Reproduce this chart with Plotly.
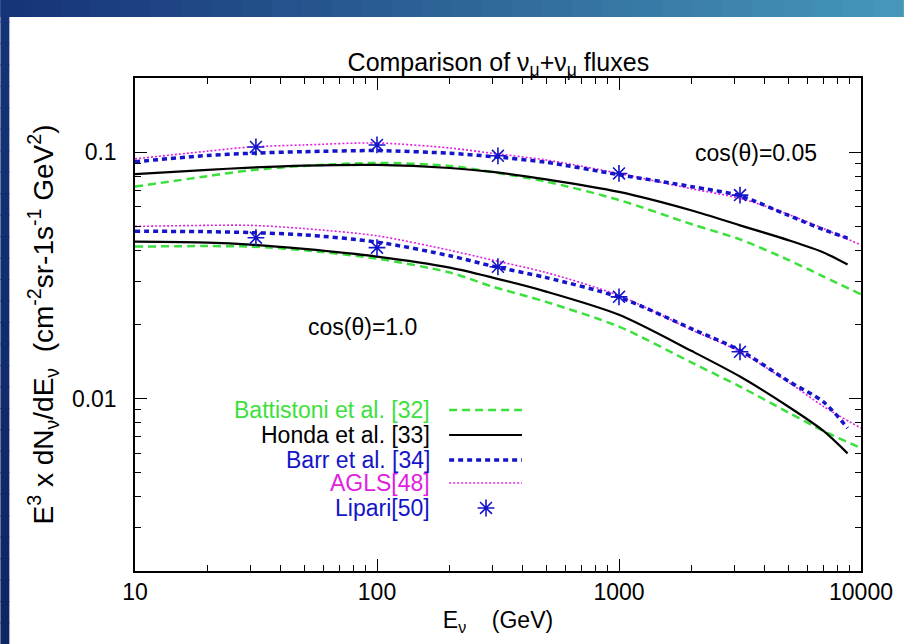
import plotly.graph_objects as go

# ---------------- data ----------------
E_up = [10, 20, 30, 50, 100, 200, 300, 500, 1000, 2000, 3162, 5000, 7000, 8800]
E_up_end = [10, 20, 30, 50, 100, 200, 300, 500, 1000, 2000, 3162, 5000, 7000, 10000]

# cos(theta) = 0.05
battistoni_hz = [0.0725, 0.080, 0.0845, 0.088, 0.0905, 0.088, 0.083, 0.076, 0.064, 0.051, 0.0443, 0.0366, 0.0313, 0.0265]
honda_hz = [0.0815, 0.0848, 0.0866, 0.0882, 0.0888, 0.0863, 0.0832, 0.0776, 0.069, 0.058, 0.0505, 0.044, 0.0392, 0.035]
barr_hz = [0.0915, 0.097, 0.099, 0.1005, 0.1015, 0.099, 0.096, 0.091, 0.081, 0.0725, 0.0665, 0.0555, 0.0485, 0.0448]
agls_hz = [0.094, 0.101, 0.105, 0.107, 0.109, 0.104, 0.099, 0.093, 0.082, 0.071, 0.065, 0.056, 0.049, 0.042]

# cos(theta) = 1.0
battistoni_vt = [0.0414, 0.0416, 0.0414, 0.040, 0.0370, 0.0325, 0.0285, 0.0247, 0.0196, 0.0140, 0.0112, 0.0088, 0.0074, 0.0063]
honda_vt = [0.0434, 0.0430, 0.0422, 0.0405, 0.0377, 0.034, 0.031, 0.0272, 0.0219, 0.0156, 0.0123, 0.0093, 0.0074, 0.0060]
barr_vt = [0.0478, 0.0476, 0.0472, 0.0462, 0.0432, 0.038, 0.0345, 0.031, 0.0258, 0.0192, 0.0157, 0.0118, 0.0097, 0.0076]
agls_vt = [0.0500, 0.0505, 0.0505, 0.049, 0.0458, 0.040, 0.0365, 0.0325, 0.0262, 0.0190, 0.0155, 0.0117, 0.0093, 0.0076]

E_lipari = [31.6, 100, 316, 1000, 3162]
lipari_hz = [0.105, 0.107, 0.0967, 0.082, 0.067]
lipari_vt = [0.045, 0.041, 0.0343, 0.0259, 0.0155]

x_ticks = [10, 100, 1000, 10000]
x_ticklabels = ["10", "100", "1000", "10000"]
x_minor = [m * d for d in (10, 100, 1000) for m in range(2, 10)]
y_ticks = [0.01, 0.1]
y_ticklabels = ["0.01", "0.1"]
y_minor = [round(m * d, 6) for d in (0.001, 0.01) for m in range(2, 10)] + [0.2]

legend_names = ["Battistoni et al. [32]", "Honda et al. [33]", "Barr et al. [34]", "AGLS[48]", "Lipari[50]"]

# ---------------- styles ----------------
GREEN = "#3ce03c"
BLACK = "#000000"
BLUE = "#1414c8"
MAG = "#e020e0"
FONT = "Liberation Sans, Arial, sans-serif"

styles = {
    "bat": dict(color=GREEN, width=2.5, dash="8px,5px"),
    "hon": dict(color=BLACK, width=2.2, dash="solid"),
    "bar": dict(color=BLUE, width=3.5, dash="5px,4px"),
    "agl": dict(color=MAG, width=1.6, dash="2px,2px"),
}

fig = go.Figure()

def add_line(x, y, st):
    fig.add_trace(go.Scatter(x=x, y=y, mode="lines", line=dict(shape="spline", smoothing=0.8, **st),
                             showlegend=False, hoverinfo="skip"))

for ys, key in [(agls_hz, "agl"), (battistoni_hz, "bat"), (honda_hz, "hon"), (barr_hz, "bar")]:
    add_line(E_up_end if key in ("agl", "bat") else E_up, ys, styles[key])
for ys, key in [(agls_vt, "agl"), (battistoni_vt, "bat"), (honda_vt, "hon"), (barr_vt, "bar")]:
    add_line(E_up_end if key in ("agl", "bat") else E_up, ys, styles[key])

star = dict(symbol="asterisk-open", size=14, line=dict(color=BLUE, width=1.6), color=BLUE)
fig.add_trace(go.Scatter(x=E_lipari, y=lipari_hz, mode="markers", marker=star, showlegend=False))
fig.add_trace(go.Scatter(x=E_lipari, y=lipari_vt, mode="markers", marker=star, showlegend=False))

# ---------------- legend (text left, sample right) on overlay axes ----------------
leg_y = [0.3266, 0.2759, 0.2252, 0.1785, 0.1278]
leg_cols = [GREEN, BLACK, BLUE, MAG, BLUE]
leg_keys = ["bat", "hon", "bar", "agl"]
for i, k in enumerate(leg_keys):
    st = dict(styles[k])
    fig.add_trace(go.Scatter(x=[0.4327, 0.533], y=[leg_y[i], leg_y[i]], mode="lines", line=st,
                             xaxis="x2", yaxis="y2", showlegend=False, hoverinfo="skip"))
fig.add_trace(go.Scatter(x=[0.4835], y=[leg_y[4]], mode="markers", marker=star,
                         xaxis="x2", yaxis="y2", showlegend=False, hoverinfo="skip"))
for i, name in enumerate(legend_names):
    fig.add_annotation(x=0.4093, y=leg_y[i], xref="paper", yref="paper", text=name, showarrow=False,
                       xanchor="right", yanchor="middle", font=dict(family=FONT, size=23, color=leg_cols[i]))

fig.add_annotation(x=0.8558, y=0.848, xref="paper", yref="paper", text="cos(θ)=0.05", showarrow=False,
                   xanchor="center", yanchor="middle", font=dict(family=FONT, size=23, color="black"))
fig.add_annotation(x=0.3139, y=0.495, xref="paper", yref="paper", text="cos(θ)=1.0", showarrow=False,
                   xanchor="center", yanchor="middle", font=dict(family=FONT, size=23, color="black"))

# ---------------- slide background bands ----------------
L, R, T, B = 135, 42, 78, 73
W, H = 905 - L - R, 644 - T - B
def px(x):
    return (x - L) / W
def py(y):
    return (644 - B - y) / H

n = 30
c0 = (22, 52, 120)
c1 = (70, 150, 185)
for i in range(n):
    f = i / (n - 1)
    col = "rgb(%d,%d,%d)" % tuple(int(c0[j] + (c1[j] - c0[j]) * f) for j in range(3))
    fig.add_shape(type="rect", xref="paper", yref="paper", x0=px(905 * i / n), x1=px(905 * (i + 1) / n + 1),
                  y0=py(17), y1=py(0), fillcolor=col, line_width=0, layer="below")
for i in range(n):
    f = i / (n - 1)
    a = (22, 52, 120)
    b = (14, 38, 100)
    col = "rgb(%d,%d,%d)" % tuple(int(a[j] + (b[j] - a[j]) * f) for j in range(3))
    fig.add_shape(type="rect", xref="paper", yref="paper", x0=px(0), x1=px(9),
                  y0=py(644 * (i + 1) / n + 1), y1=py(644 * i / n), fillcolor=col, line_width=0, layer="below")

axis_common = dict(showline=True, linecolor="black", linewidth=1.5, mirror="ticks", ticks="inside",
                   ticklen=12, tickwidth=1.3, tickcolor="black", showgrid=False, zeroline=False,
                   tickfont=dict(family=FONT, size=23, color="black"))

fig.update_layout(
    width=905, height=644,
    margin=dict(l=L, r=R, t=T, b=B),
    paper_bgcolor="white", plot_bgcolor="white",
    showlegend=False,
    title=dict(text="Comparison of ν<sub>μ</sub>+ν<sub>μ</sub> fluxes", x=0.5507, xanchor="center",
               y=1 - 62 / 644, yanchor="middle", font=dict(family=FONT, size=25, color="black")),
    xaxis=dict(type="log", range=[1, 4], tickvals=x_ticks, ticktext=x_ticklabels,
               minor=dict(tickvals=x_minor, ticks="inside", ticklen=6, tickwidth=1.2, tickcolor="black", showgrid=False),
               title=dict(text="E<sub>ν</sub>    (GeV)", font=dict(family=FONT, size=23, color="black"), standoff=8),
               **axis_common),
    yaxis=dict(type="log", range=[-2.69897, -0.69897], tickvals=y_ticks, ticktext=y_ticklabels,
               ticklabelstandoff=12,
               minor=dict(tickvals=y_minor, ticks="inside", ticklen=6, tickwidth=1.2, tickcolor="black", showgrid=False),
               title=dict(text="E<sup>3</sup> x dN<sub>ν</sub>/dE<sub>ν</sub>  (cm<sup>-2</sup>sr-1s<sup>-1</sup> GeV<sup>2</sup>)",
                          font=dict(family=FONT, size=28, color="black"), standoff=10),
               **axis_common),
    xaxis2=dict(range=[0, 1], overlaying="x", visible=False, fixedrange=True),
    yaxis2=dict(range=[0, 1], overlaying="y", visible=False, fixedrange=True),
)

fig.write_html("out.html")
